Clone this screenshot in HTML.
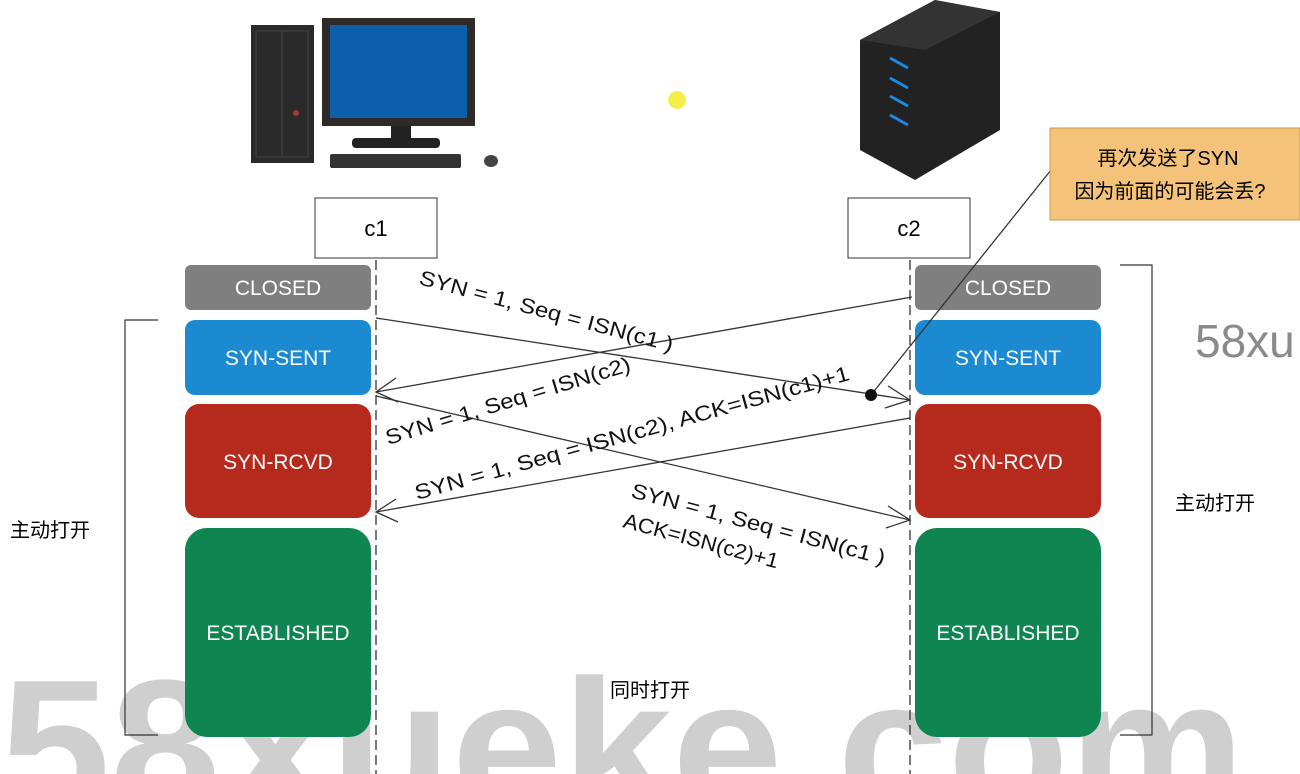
<!DOCTYPE html>
<html><head><meta charset="utf-8"><style>
html,body{margin:0;padding:0;background:#fff;width:1300px;height:774px;overflow:hidden;}
svg{display:block;}
</style></head><body>
<svg width="1300" height="774" viewBox="0 0 1300 774" xmlns="http://www.w3.org/2000/svg" font-family="Liberation Sans, Noto Sans CJK SC, sans-serif" overflow="hidden">
<!-- watermark -->
<text x="0" y="812" font-size="190" font-weight="bold" fill="#cfcfcf" textLength="1245" lengthAdjust="spacingAndGlyphs">58xueke.com</text>
<text x="1195" y="357" font-size="46" fill="#8a8a8a" font-family="Liberation Sans, sans-serif">58xu</text>
<!-- computer -->
<rect x="251" y="25" width="63" height="138" fill="#2a2a2a"/>
<rect x="256" y="31" width="52" height="126" fill="none" stroke="#444" stroke-width="1"/>
<line x1="282" y1="31" x2="282" y2="157" stroke="#444"/>
<circle cx="296" cy="113" r="3" fill="#a33"/>
<rect x="322" y="18" width="153" height="108" fill="#2e2a28"/>
<rect x="330" y="25" width="137" height="93" fill="#0d5fae"/>
<rect x="391" y="126" width="20" height="14" fill="#222"/>
<rect x="352" y="138" width="88" height="10" rx="4" fill="#222"/>
<rect x="330" y="154" width="131" height="14" rx="2" fill="#333"/>
<ellipse cx="491" cy="161" rx="7" ry="6" fill="#444"/>
<!-- server -->
<polygon points="860,40 935,0 1000,12 1000,130 915,180 860,150" fill="#222"/>
<polygon points="860,40 935,0 1000,12 925,50" fill="#333"/>
<g stroke="#1e88e5" stroke-width="3"><line x1="890" y1="58" x2="908" y2="68"/><line x1="890" y1="78" x2="908" y2="88"/><line x1="890" y1="96" x2="908" y2="106"/><line x1="890" y1="115" x2="908" y2="125"/></g>
<circle cx="677" cy="100" r="9" fill="#f5ee4a"/>
<!-- c1 c2 -->
<rect x="315" y="198" width="122" height="60" fill="#fff" stroke="#333"/>
<text x="376" y="236" font-size="22" text-anchor="middle">c1</text>
<rect x="848" y="198" width="122" height="60" fill="#fff" stroke="#333"/>
<text x="909" y="236" font-size="22" text-anchor="middle">c2</text>
<!-- state boxes -->
<g font-size="21" fill="#fff" text-anchor="middle">
<rect x="185" y="265" width="186" height="45" rx="6" fill="#7f7f7f"/><text x="278" y="295">CLOSED</text>
<rect x="185" y="320" width="186" height="75" rx="10" fill="#1c8ad0"/><text x="278" y="365">SYN-SENT</text>
<rect x="185" y="404" width="186" height="114" rx="14" fill="#b62a1e"/><text x="278" y="469">SYN-RCVD</text>
<rect x="185" y="528" width="186" height="209" rx="22" fill="#0f8651"/><text x="278" y="640">ESTABLISHED</text>
<rect x="915" y="265" width="186" height="45" rx="6" fill="#7f7f7f"/><text x="1008" y="295">CLOSED</text>
<rect x="915" y="320" width="186" height="75" rx="10" fill="#1c8ad0"/><text x="1008" y="365">SYN-SENT</text>
<rect x="915" y="404" width="186" height="114" rx="14" fill="#b62a1e"/><text x="1008" y="469">SYN-RCVD</text>
<rect x="915" y="528" width="186" height="209" rx="22" fill="#0f8651"/><text x="1008" y="640">ESTABLISHED</text>
</g>
<!-- lifelines -->
<g stroke="#333" stroke-width="1.3" stroke-dasharray="10,5"><line x1="376" y1="260" x2="376" y2="774"/><line x1="910" y1="260" x2="910" y2="774"/></g>
<!-- brackets -->
<g stroke="#333" fill="none" stroke-width="1.2">
<polyline points="158,320 125,320 125,735 158,735"/>
<polyline points="1120,265 1152,265 1152,735 1120,735"/>
</g>
<text x="10" y="537" font-size="20">主动打开</text>
<text x="1175" y="510" font-size="20">主动打开</text>
<text x="610" y="697" font-size="20">同时打开</text>
<!-- arrows -->
<g stroke="#333" stroke-width="1.3" fill="none">
<line x1="376" y1="318" x2="910" y2="400"/>
<polyline points="888,386 910,400 885,408"/>
<line x1="912" y1="297" x2="376" y2="392"/>
<polyline points="396,378 376,392 398,402"/>
<line x1="910" y1="418" x2="376" y2="512"/>
<polyline points="396,499 376,512 398,522"/>
<line x1="376" y1="396" x2="910" y2="520"/>
<polyline points="888,506 910,520 886,528"/>
<line x1="871" y1="395" x2="1055" y2="165"/>
</g>
<circle cx="871" cy="395" r="6" fill="#111"/>
<g font-size="21" fill="#111">
<text transform="translate(418,284) rotate(15)" textLength="262" lengthAdjust="spacingAndGlyphs">SYN = 1, Seq = ISN(c1 )</text>
<text transform="translate(388,445) rotate(-17)" textLength="255" lengthAdjust="spacingAndGlyphs">SYN = 1, Seq = ISN(c2)</text>
<text transform="translate(417,500) rotate(-15.5)" textLength="450" lengthAdjust="spacingAndGlyphs">SYN = 1, Seq = ISN(c2), ACK=ISN(c1)+1</text>
<text transform="translate(630,497) rotate(15)" textLength="262" lengthAdjust="spacingAndGlyphs">SYN = 1, Seq = ISN(c1 )</text>
<text transform="translate(622,527) rotate(15)" textLength="160" lengthAdjust="spacingAndGlyphs">ACK=ISN(c2)+1</text>
</g>
<!-- callout -->
<rect x="1050" y="128" width="250" height="92" fill="#f5c27a" stroke="#c99a50"/>
<text x="1168" y="165" font-size="20" text-anchor="middle">再次发送了SYN</text>
<text x="1170" y="198" font-size="20" text-anchor="middle">因为前面的可能会丢?</text>
</svg>
</body></html>
